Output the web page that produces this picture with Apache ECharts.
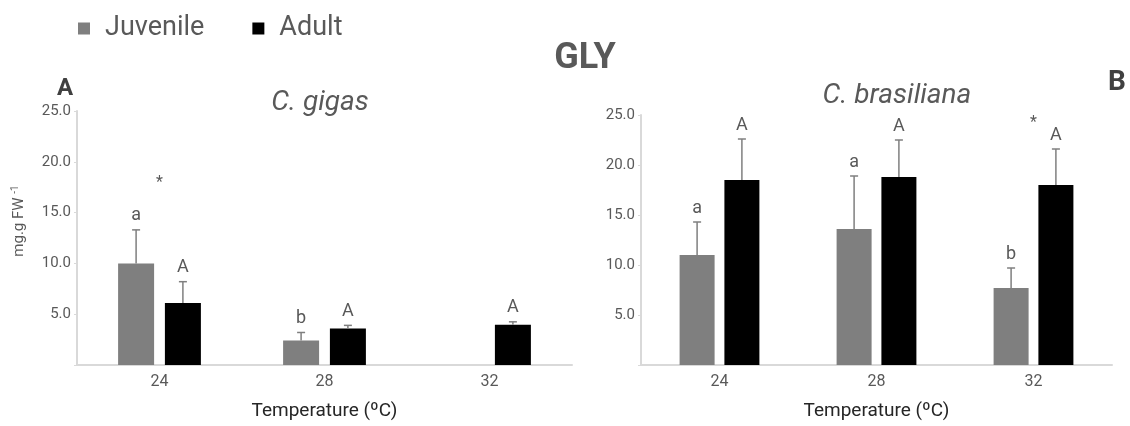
<!DOCTYPE html>
<html>
<head>
<meta charset="utf-8">
<script src="https://cdn.jsdelivr.net/npm/echarts@6/dist/echarts.min.js"></script>
<style>html,body{margin:0;padding:0;background:#fff}#c{width:1130px;height:426px}</style>
</head>
<body>
<div id="c"></div>
<script>
// ---- data ----
var categories = ['24', '28', '32'];
var yTicks = [0, 5, 10, 15, 20, 25];

var gigasJuv = [10.0, 2.4, null];
var gigasJuvErr = [3.3, 0.8, null];
var gigasAdult = [6.1, 3.6, 3.95];
var gigasAdultErr = [2.1, 0.3, 0.3];
var gigasJuvLetters = ['a', 'b', ''];
var gigasAdultLetters = ['A', 'A', 'A'];
var gigasStarY = [17.9, null, null];

var brasJuv = [11.0, 13.6, 7.7];
var brasJuvErr = [3.3, 5.3, 2.0];
var brasAdult = [18.5, 18.8, 18.0];
var brasAdultErr = [4.1, 3.7, 3.6];
var brasJuvLetters = ['a', 'a', 'b'];
var brasAdultLetters = ['A', 'A', 'A'];
var brasStarY = [null, null, 24.2];

// ---- styles ----
var FONT = 'Roboto, "Liberation Sans", sans-serif';
var JUV = '#7f7f7f', ADU = '#000000', ERR = '#7f7f7f';
var TXT = '#595959';

function errSeries(gridIdx, vals, errs, letters, offset) {
  return {
    type: 'custom',
    xAxisIndex: gridIdx, yAxisIndex: gridIdx,
    z: 5,
    silent: true,
    data: categories.map(function (c, i) {
      return [i, vals[i] == null ? 0 : vals[i], vals[i] == null ? 0 : vals[i] + errs[i]];
    }),
    encode: { x: 0, y: 2 },
    renderItem: function (params, api) {
      var i = params.dataIndex;
      if (vals[i] == null) return null;
      var b = api.coord([api.value(0), api.value(1)]);
      var t = api.coord([api.value(0), api.value(2)]);
      var cx = b[0] + offset;
      var st = { stroke: ERR, lineWidth: 1.5 };
      return {
        type: 'group',
        children: [
          { type: 'line', shape: { x1: cx, y1: b[1], x2: cx, y2: t[1] }, style: st },
          { type: 'line', shape: { x1: cx - 4, y1: t[1], x2: cx + 4, y2: t[1] }, style: st },
          { type: 'text', style: { text: letters[i], x: cx, y: t[1] - 5, textAlign: 'center', textVerticalAlign: 'bottom', fill: TXT, font: '18px ' + FONT } }
        ]
      };
    }
  };
}

function starSeries(gridIdx, ys) {
  return {
    type: 'custom',
    xAxisIndex: gridIdx, yAxisIndex: gridIdx,
    z: 5, silent: true,
    data: categories.map(function (c, i) { return [i, ys[i] == null ? 0 : ys[i]]; }),
    renderItem: function (params, api) {
      if (ys[params.dataIndex] == null) return null;
      var p = api.coord([api.value(0), api.value(1)]);
      return { type: 'text', style: { text: '*', x: p[0], y: p[1], textAlign: 'center', textVerticalAlign: 'middle', fill: TXT, font: '16px ' + FONT } };
    }
  };
}

function yAxis(gridIdx) {
  return {
    type: 'value', gridIndex: gridIdx,
    min: yTicks[0], max: yTicks[yTicks.length - 1], interval: 5,
    splitLine: { show: false },
    axisLine: { show: true, lineStyle: { color: '#d9d9d9', width: 2 } },
    axisTick: { show: true, length: 3, lineStyle: { color: '#d9d9d9' } },
    axisLabel: {
      color: TXT, fontFamily: FONT, fontSize: 15, margin: 6,
      formatter: function (v) { return v === 0 ? '' : v.toFixed(1); }
    }
  };
}

function xAxis(gridIdx) {
  return {
    type: 'category', gridIndex: gridIdx, data: categories,
    axisLine: { show: true, lineStyle: { color: '#d9d9d9', width: 2 } },
    axisTick: { show: false },
    axisLabel: { color: TXT, fontFamily: FONT, fontSize: 16, margin: 9 },
    name: 'Temperature (ºC)', nameLocation: 'middle', nameGap: 37,
    nameTextStyle: { color: '#262626', fontFamily: FONT, fontSize: 19 }
  };
}

var option = {
  backgroundColor: '#fff',
  animation: false,
  legend: {
    data: ['Juvenile', 'Adult'],
    left: 73, top: 10,
    icon: 'rect', itemWidth: 12, itemHeight: 12, itemGap: 48,
    textStyle: { color: TXT, fontFamily: FONT, fontSize: 27, padding: [0, 0, 0, 10] }
  },
  title: [
    { text: 'GLY', left: 580, top: 36, textAlign: 'center', textStyle: { color: TXT, fontFamily: FONT, fontSize: 36, fontWeight: 'bold' } },
    { text: 'A', left: 60, top: 72, textAlign: 'center', textStyle: { color: '#404040', fontFamily: FONT, fontSize: 24, fontWeight: 'bold' } },
    { text: 'B', left: 1112, top: 64, textAlign: 'center', textStyle: { color: '#404040', fontFamily: FONT, fontSize: 28, fontWeight: 'bold' } },
    { text: 'C. gigas', left: 315, top: 84, textAlign: 'center', textStyle: { color: TXT, fontFamily: FONT, fontSize: 28, fontStyle: 'italic', fontWeight: 'normal' } },
    { text: 'C. brasiliana', left: 892, top: 77, textAlign: 'center', textStyle: { color: TXT, fontFamily: FONT, fontSize: 28, fontStyle: 'italic', fontWeight: 'normal' } }
  ],
  graphic: [
    {
      type: 'text', x: 19, y: 221, rotation: Math.PI / 2,
      style: {
        text: 'mg.g FW {sup|-1}', textAlign: 'center', textVerticalAlign: 'middle',
        fill: TXT, font: '15px ' + FONT,
        rich: { sup: { fontSize: 10, verticalAlign: 'top', padding: [0, 0, 7, 0], fill: TXT, fontFamily: FONT } }
      }
    }
  ],
  grid: [
    { left: 77, top: 111, width: 495, bottom: 60 },
    { left: 641, top: 115, right: 18, bottom: 57 }
  ],
  xAxis: [xAxis(0), xAxis(1)],
  yAxis: [yAxis(0), yAxis(1)],
  series: [
    { name: 'Juvenile', type: 'bar', xAxisIndex: 0, yAxisIndex: 0, data: gigasJuv, barWidth: 36, barGap: '30%', itemStyle: { color: JUV } },
    { name: 'Adult', type: 'bar', xAxisIndex: 0, yAxisIndex: 0, data: gigasAdult, barWidth: 36, barGap: '30%', itemStyle: { color: ADU } },
    { name: 'Juvenile', type: 'bar', xAxisIndex: 1, yAxisIndex: 1, data: brasJuv, barWidth: 35, barGap: '28%', itemStyle: { color: JUV } },
    { name: 'Adult', type: 'bar', xAxisIndex: 1, yAxisIndex: 1, data: brasAdult, barWidth: 35, barGap: '28%', itemStyle: { color: ADU } },
    errSeries(0, gigasJuv, gigasJuvErr, gigasJuvLetters, -23.4),
    errSeries(0, gigasAdult, gigasAdultErr, gigasAdultLetters, 23.4),
    errSeries(1, brasJuv, brasJuvErr, brasJuvLetters, -22.4),
    errSeries(1, brasAdult, brasAdultErr, brasAdultLetters, 22.4),
    starSeries(0, gigasStarY),
    starSeries(1, brasStarY)
  ]
};

var chart = echarts.init(document.getElementById('c'), null, { renderer: 'canvas' });
chart.setOption(option);
</script>
</body>
</html>
